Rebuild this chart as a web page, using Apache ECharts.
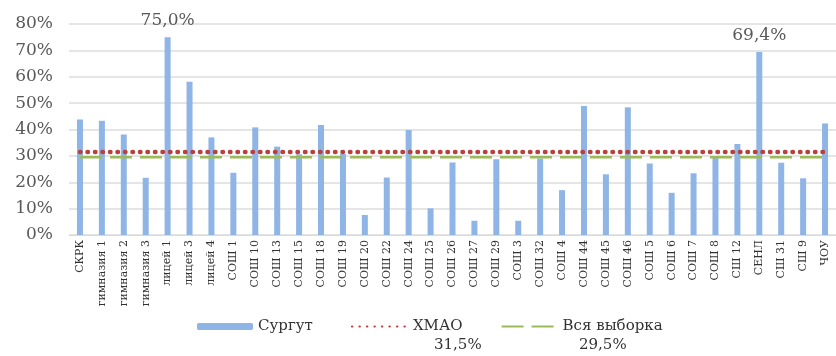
<!DOCTYPE html>
<html>
<head>
<meta charset="utf-8">
<script src="https://cdn.jsdelivr.net/npm/echarts@6/dist/echarts.min.js"></script>
<style>
  html, body { margin: 0; padding: 0; background: #ffffff; }
  #chart { width: 836px; height: 356px; }
</style>
</head>
<body>
<div id="chart"></div>
<script>
// категории (школы)
const categories = [
  'СКРК', 'гимназия 1', 'гимназия 2', 'гимназия 3', 'лицей 1', 'лицей 3', 'лицей 4',
  'СОШ 1', 'СОШ 10', 'СОШ 13', 'СОШ 15', 'СОШ 18', 'СОШ 19', 'СОШ 20', 'СОШ 22',
  'СОШ 24', 'СОШ 25', 'СОШ 26', 'СОШ 27', 'СОШ 29', 'СОШ 3', 'СОШ 32', 'СОШ 4',
  'СОШ 44', 'СОШ 45', 'СОШ 46', 'СОШ 5', 'СОШ 6', 'СОШ 7', 'СОШ 8', 'СШ 12',
  'СЕНЛ', 'СШ 31', 'СШ 9', 'ЧОУ'
];

// Сургут, %
const surgut = [
  43.8, 43.3, 38.1, 21.7, 75.0, 58.1, 37.0,
  23.6, 40.8, 33.5, 30.6, 41.7, 30.7, 7.6, 21.8,
  39.8, 10.1, 27.5, 5.4, 28.7, 5.4, 29.0, 17.0,
  48.9, 23.0, 48.4, 27.1, 16.0, 23.4, 29.7, 34.5,
  69.4, 27.4, 21.5, 42.3
];

// ХМАО (среднее), %
const hmao = [
  31.5, 31.5, 31.5, 31.5, 31.5, 31.5, 31.5,
  31.5, 31.5, 31.5, 31.5, 31.5, 31.5, 31.5, 31.5,
  31.5, 31.5, 31.5, 31.5, 31.5, 31.5, 31.5, 31.5,
  31.5, 31.5, 31.5, 31.5, 31.5, 31.5, 31.5, 31.5,
  31.5, 31.5, 31.5, 31.5
];

// Вся выборка (среднее), %
const allSample = [
  29.5, 29.5, 29.5, 29.5, 29.5, 29.5, 29.5,
  29.5, 29.5, 29.5, 29.5, 29.5, 29.5, 29.5, 29.5,
  29.5, 29.5, 29.5, 29.5, 29.5, 29.5, 29.5, 29.5,
  29.5, 29.5, 29.5, 29.5, 29.5, 29.5, 29.5, 29.5,
  29.5, 29.5, 29.5, 29.5
];

// подписанные столбцы
const labelled = ['лицей 1', 'СЕНЛ'];

// шкала оси Y
const yTicks = { min: 0, max: 80, interval: 10 };

const FONT = 'DejaVu Serif';
const fmt = v => v.toFixed(1).replace('.', ',') + '%';

const myChart = echarts.init(document.getElementById('chart'));

const barData = surgut.map((v, i) =>
  labelled.includes(categories[i]) ? { value: v, label: { show: true } } : v
);

const option = {
  animation: false,
  grid: { left: 69, top: 24, width: 771, bottom: 121 },
  legend: {
    top: 314,
    left: 192,
    itemWidth: 56,
    itemHeight: 7,
    itemGap: 38,
    textStyle: { fontFamily: FONT, fontSize: 15, color: '#333333' },
    data: [
      'Сургут',
      { name: 'ХМАО', itemStyle: { opacity: 0 } },
      { name: 'Вся выборка', itemStyle: { opacity: 0 } }
    ]
  },
  xAxis: {
    type: 'category',
    data: categories,
    axisLine: { lineStyle: { color: '#d9d9d9' } },
    axisTick: { show: false },
    axisLabel: {
      rotate: 90,
      interval: 0,
      margin: 5,
      fontFamily: FONT,
      fontSize: 11,
      color: '#333333'
    }
  },
  yAxis: {
    type: 'value',
    min: yTicks.min,
    max: yTicks.max,
    interval: yTicks.interval,
    axisLabel: {
      formatter: '{value}%',
      margin: 16,
      fontFamily: FONT,
      fontSize: 17,
      color: '#595959'
    },
    splitLine: { lineStyle: { color: '#dcdcdc', width: 1.5 } }
  },
  series: [
    {
      name: 'Сургут',
      type: 'bar',
      data: barData,
      barWidth: 6,
      itemStyle: { color: '#8fb4e6' },
      label: {
        show: false,
        position: 'top',
        distance: 8,
        fontFamily: FONT,
        fontSize: 17,
        color: '#595959',
        formatter: p => fmt(p.value)
      },
      z: 2
    },
    {
      name: 'ХМАО',
      type: 'line',
      data: hmao,
      symbol: 'none',
      itemStyle: { color: '#b8403d' },
      lineStyle: { color: '#b8403d', width: 4.5, type: [0.5, 7], cap: 'round' },
      z: 4
    },
    {
      name: 'Вся выборка',
      type: 'line',
      data: allSample,
      symbol: 'none',
      itemStyle: { color: '#9bbb59' },
      lineStyle: { color: '#9bbb59', width: 2.5, type: [22, 8] },
      z: 3
    }
  ],
  graphic: [
    {
      type: 'text', left: 434, top: 338,
      style: { text: fmt(hmao[0]), font: '15px "DejaVu Serif"', fill: '#333333' }
    },
    {
      type: 'text', left: 579, top: 338,
      style: { text: fmt(allSample[0]), font: '15px "DejaVu Serif"', fill: '#333333' }
    }
  ]
};

myChart.setOption(option);
</script>
</body>
</html>
